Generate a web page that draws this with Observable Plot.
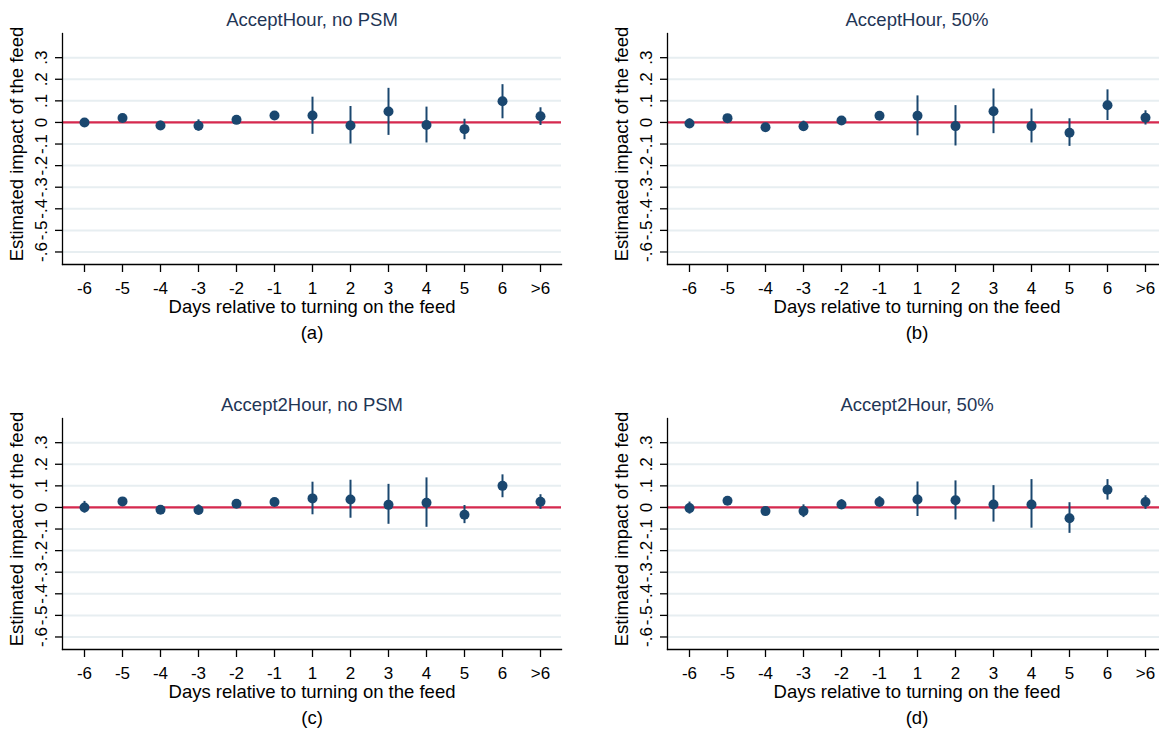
<!DOCTYPE html>
<html>
<head>
<meta charset="utf-8">
<script src="https://cdn.jsdelivr.net/npm/d3@7"></script>
<script src="https://cdn.jsdelivr.net/npm/@observablehq/plot@0.6"></script>
<style>
  html, body { margin: 0; padding: 0; background: #fff; }
  #wrap { position: relative; width: 1159px; height: 732px; overflow: hidden; background: #fff; }
  .panel { position: absolute; width: 580px; height: 360px; }
  .panel svg { overflow: visible; max-width: none !important; width: 580px; height: 360px; }
</style>
</head>
<body>
<div id="wrap"></div>
<script>
// ---- data ----
const days = ["-6", "-5", "-4", "-3", "-2", "-1", "1", "2", "3", "4", "5", "6", ">6"];
const yTicks = [-0.6, -0.5, -0.4, -0.3, -0.2, -0.1, 0, 0.1, 0.2, 0.3];
const yTickLabels = ["-.6", "-.5", "-.4", "-.3", "-.2", "-.1", "0", ".1", ".2", ".3"];

const titles = ["AcceptHour, no PSM", "AcceptHour, 50%", "Accept2Hour, no PSM", "Accept2Hour, 50%"];
const captions = ["(a)", "(b)", "(c)", "(d)"];
const xTitle = "Days relative to turning on the feed";
const yTitle = "Estimated impact of the feed";

// panel (a) AcceptHour, no PSM
const estA = [0.000, 0.021, -0.014, -0.015, 0.012, 0.032, 0.032, -0.014, 0.051, -0.012, -0.031, 0.098, 0.029];
const loA  = [-0.008, 0.013, -0.034, -0.040, -0.006, 0.022, -0.055, -0.100, -0.060, -0.095, -0.080, 0.017, -0.014];
const hiA  = [0.008, 0.029, 0.006, 0.012, 0.029, 0.045, 0.117, 0.074, 0.158, 0.071, 0.015, 0.175, 0.068];

// panel (b) AcceptHour, 50%
const estB = [-0.005, 0.020, -0.022, -0.018, 0.009, 0.031, 0.031, -0.017, 0.052, -0.017, -0.048, 0.080, 0.022];
const loB  = [-0.026, 0.006, -0.037, -0.042, -0.009, 0.012, -0.062, -0.109, -0.052, -0.095, -0.111, 0.009, -0.012];
const hiB  = [0.017, 0.034, -0.006, 0.006, 0.026, 0.048, 0.123, 0.078, 0.155, 0.062, 0.017, 0.151, 0.054];

// panel (c) Accept2Hour, no PSM
const estC = [0.000, 0.028, -0.011, -0.012, 0.017, 0.025, 0.042, 0.037, 0.012, 0.022, -0.034, 0.100, 0.026];
const loC  = [-0.026, 0.012, -0.028, -0.034, -0.003, 0.009, -0.034, -0.050, -0.078, -0.092, -0.075, 0.045, -0.009];
const hiC  = [0.028, 0.044, 0.005, 0.012, 0.036, 0.040, 0.117, 0.126, 0.107, 0.137, 0.009, 0.151, 0.059];

// panel (d) Accept2Hour, 50%
const estD = [-0.003, 0.031, -0.017, -0.017, 0.014, 0.025, 0.037, 0.033, 0.014, 0.014, -0.050, 0.082, 0.025];
const loD  = [-0.031, 0.012, -0.034, -0.047, -0.008, 0.005, -0.042, -0.058, -0.068, -0.096, -0.120, 0.034, -0.009];
const hiD  = [0.025, 0.047, 0.000, 0.012, 0.036, 0.050, 0.118, 0.123, 0.101, 0.129, 0.022, 0.129, 0.054];

// ---- styling ----
const FONT = "'Liberation Sans', Arial, Helvetica, sans-serif";
const NAVY = "#1a476f";
const RED = "#d7294e";
const GRID = "#e7eef1";
const TITLE_COLOR = "#1f3656";

const panels = [
  {est: estA, lo: loA, hi: hiA, left: 0,   top: 0},
  {est: estB, lo: loB, hi: hiB, left: 605, top: 0},
  {est: estC, lo: loC, hi: hiC, left: 0,   top: 384.5},
  {est: estD, lo: loD, hi: hiD, left: 605, top: 384.5}
];

const wrap = document.getElementById("wrap");
const labelOf = new Map(yTicks.map((t, i) => [t, yTickLabels[i]]));

panels.forEach((p, i) => {
  const rows = days.map((d, j) => ({day: d, est: p.est[j], lo: p.lo[j], hi: p.hi[j]}));
  const chart = Plot.plot({
    width: 580,
    height: 360,
    marginLeft: 62,
    marginRight: 19,
    marginTop: 33,
    marginBottom: 96,
    style: {fontFamily: FONT, background: "transparent", color: "#000"},
    x: {type: "point", domain: days, padding: 0.5, label: null},
    y: {domain: [-0.658, 0.412], label: null},
    marks: [
      Plot.gridY(yTicks, {stroke: GRID, strokeOpacity: 1, strokeWidth: 2}),
      Plot.ruleY([0], {stroke: RED, strokeWidth: 2.2}),
      Plot.ruleX(rows, {x: "day", y1: "lo", y2: "hi", stroke: NAVY, strokeWidth: 2}),
      Plot.dot(rows, {x: "day", y: "est", r: 5, fill: NAVY, stroke: "none"}),
      Plot.frame({anchor: "left", stroke: "#000", strokeWidth: 1.3}),
      Plot.frame({anchor: "bottom", stroke: "#000", strokeWidth: 1.3}),
      Plot.axisX({tickSize: 8, tickPadding: 9, fontSize: 17, stroke: "#000", strokeWidth: 1.3, label: null}),
      Plot.axisY({ticks: yTicks, tickFormat: d => labelOf.get(d), tickSize: 7, tickRotate: -90, tickPadding: 9, fontSize: 17, stroke: "#000", strokeWidth: 1.3, label: null}),
      Plot.text([titles[i]], {frameAnchor: "top", dy: -13, fontSize: 18.5, fill: TITLE_COLOR, lineAnchor: "middle", textAnchor: "middle"}),
      Plot.text([xTitle], {frameAnchor: "bottom", dy: 43, fontSize: 18.5, fill: "#000", lineAnchor: "middle", textAnchor: "middle"}),
      Plot.text([captions[i]], {frameAnchor: "bottom", dy: 69, fontSize: 18.5, fill: "#000", lineAnchor: "middle", textAnchor: "middle"}),
      Plot.text([yTitle], {frameAnchor: "left", dx: -45.5, dy: -5, rotate: -90, fontSize: 18.5, fill: "#000", lineAnchor: "middle", textAnchor: "middle"})
    ]
  });
  const div = document.createElement("div");
  div.className = "panel";
  div.style.left = p.left + "px";
  div.style.top = p.top + "px";
  div.appendChild(chart);
  wrap.appendChild(div);
});
</script>
</body>
</html>
